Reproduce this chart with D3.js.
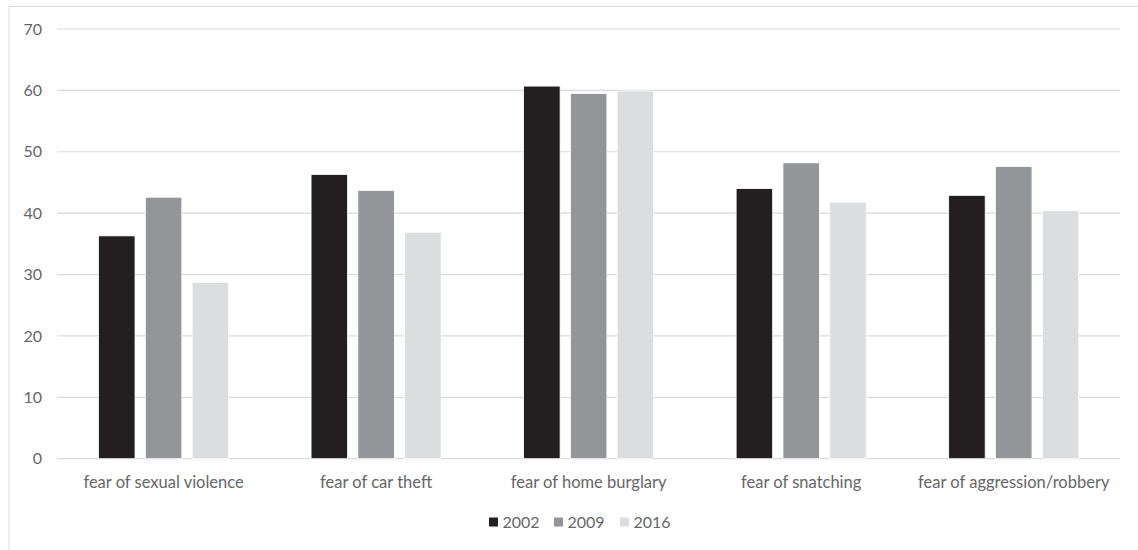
<!DOCTYPE html>
<html><head><meta charset="utf-8">
<script src="https://cdn.jsdelivr.net/npm/d3@7"></script>
<style>body{margin:0;background:#fff}svg{display:block}text{font-family:Lato,"Open Sans",sans-serif}</style>
</head><body><svg id="c" width="1138" height="550"></svg>
<script>
const categories = ["fear of sexual violence","fear of car theft","fear of home burglary","fear of snatching","fear of aggression/robbery"];
const seriesNames = ["2002","2009","2016"];
const v2002 = [36.3, 46.3, 60.7, 44.0, 42.9];
const v2009 = [42.6, 43.7, 59.5, 48.2, 47.6];
const v2016 = [28.7, 36.9, 59.9, 41.8, 40.4];
const yTicks = [0,10,20,30,40,50,60,70];
const colors = ["#231f20","#939598","#dcdddf"];

(function(){
const series = [v2002, v2009, v2016];
const svg = d3.select("#c");
svg.append("rect").attr("x",9).attr("y",6.5).attr("width",1200).attr("height",600)
  .attr("fill","none").attr("stroke","#d9d9d9").attr("stroke-width",1);

const pL = 57.3, pR = 1120, pT = 29, pB = 458.7;
const x = d3.scaleBand().domain(categories).range([pL,pR]).paddingInner(0).paddingOuter(0);
const y = d3.scaleLinear().domain([0,70]).range([pB, pT]);
const bw = 36.5, gap = 10.3;
const tc = "#666666";

const g = svg.append("g");
g.selectAll("line.grid").data(yTicks).join("line")
  .attr("x1",pL).attr("x2",pR).attr("y1",d=>y(d)).attr("y2",d=>y(d))
  .attr("stroke","#d9d9d9").attr("stroke-width",1.2);

g.selectAll("text.yt").data(yTicks).join("text")
  .attr("x",42).attr("y",d=>y(d)).attr("dy","0.35em").attr("text-anchor","end")
  .attr("font-size",16).attr("fill",tc).text(d=>d);

series.forEach((vals,si)=>{
  g.selectAll("rect.s"+si).data(vals).join("rect").attr("class","s"+si)
    .attr("x",(d,i)=>x(categories[i])+x.bandwidth()/2 + (si-1)*(bw+gap) - bw/2)
    .attr("y",d=>y(d)).attr("width",bw).attr("height",d=>pB-y(d))
    .attr("fill",colors[si]).attr("stroke","#ffffff").attr("stroke-width",0.8);
});

g.selectAll("text.xt").data(categories).join("text")
  .attr("x",d=>x(d)+x.bandwidth()/2).attr("y",488).attr("text-anchor","middle")
  .attr("font-size",16.5).attr("fill",tc).text(d=>d);

const lg = svg.append("g");
const lx = [489, 554, 620];
seriesNames.forEach((s,i)=>{
  lg.append("rect").attr("x",lx[i]).attr("y",517.5).attr("width",9).attr("height",9).attr("fill",colors[i]);
  lg.append("text").attr("x",lx[i]+13.5).attr("y",527.5).attr("font-size",16).attr("fill",tc).text(s);
});
})();
</script></body></html>
